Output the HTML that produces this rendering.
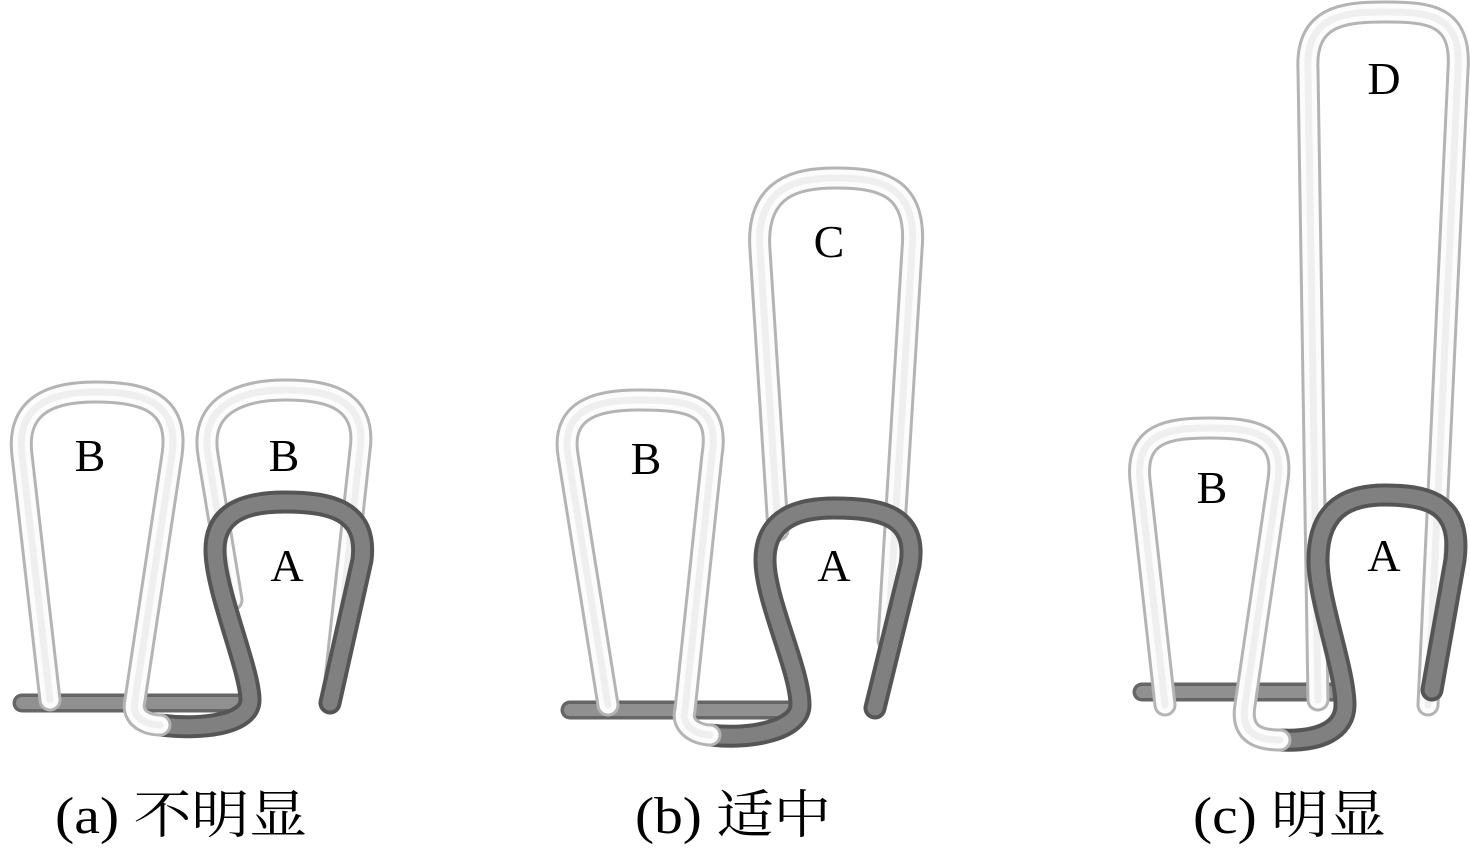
<!DOCTYPE html>
<html><head><meta charset="utf-8"><style>
html,body{margin:0;padding:0;background:#fff;width:1470px;height:851px;overflow:hidden}
svg{display:block}
.wo{fill:none;stroke:#b4b4b4;stroke-width:23;stroke-linecap:round;stroke-linejoin:round}
.wi{fill:none;stroke:#fcfcfc;stroke-width:17;stroke-linecap:round;stroke-linejoin:round}
.wm{fill:none;stroke:#efefef;stroke-width:7;stroke-linecap:round;stroke-linejoin:round}
.go{fill:none;stroke:#555;stroke-width:23;stroke-linecap:round;stroke-linejoin:round}
.gi{fill:none;stroke:#808080;stroke-width:15;stroke-linecap:round;stroke-linejoin:round}
.ro{fill:none;stroke:#666;stroke-width:19;stroke-linecap:round}
.ri{fill:none;stroke:#909090;stroke-width:12;stroke-linecap:round}
text{font-family:"Liberation Serif","Noto Serif CJK SC",serif;fill:#000}
</style></head><body>
<svg width="1470" height="851" viewBox="0 0 1470 851" xmlns="http://www.w3.org/2000/svg">
<defs>
<path id="aB2" d="M232,600 L208,455 C198,395 260,390 285,390 C320,390 368,395 360,450 L335,680"/>
<path id="aB1" d="M50,700 L22,455 C15,400 60,392 95,392 C140,392 180,400 172,455 L135,700 C130,720 150,725 160,725"/>
<path id="aA" d="M160,725 C200,730 250,725 250,700 C250,670 215,590 215,550 C215,505 260,502 285,502 C330,502 368,510 362,560 L330,703"/>
<path id="bB" d="M608,705 L568,455 C560,405 605,400 640,400 C690,400 720,405 712,455 L685,710 C680,728 700,735 710,735"/>
<path id="bC" d="M778,530 L760,250 C755,185 800,178 835,178 C880,178 918,185 912,250 L888,640"/>
<path id="bA" d="M710,735 C750,740 800,730 800,705 C800,670 765,600 765,560 C765,512 810,508 834,508 C880,508 918,515 910,565 L875,708"/>
<path id="cB" d="M1165,705 L1140,480 C1135,432 1170,428 1210,428 C1250,428 1285,432 1278,480 L1245,705 C1240,735 1260,740 1280,740"/>
<path id="cD" d="M1318,700 L1308,70 C1305,15 1345,12 1385,12 C1430,12 1462,15 1458,70 L1428,705"/>
<path id="cA" d="M1280,740 C1320,742 1345,730 1345,705 C1345,670 1318,600 1318,560 C1318,500 1360,495 1385,495 C1430,495 1462,505 1455,560 L1432,690"/>
</defs>
<line class="ro" x1="22" y1="703" x2="250" y2="703"/><line class="ri" x1="22" y1="703" x2="248" y2="703"/>
<line class="ro" x1="570" y1="710" x2="800" y2="710"/><line class="ri" x1="570" y1="710" x2="798" y2="710"/>
<line class="ro" x1="1142" y1="692" x2="1340" y2="692"/><line class="ri" x1="1142" y1="692" x2="1338" y2="692"/>
<use href="#aB2" class="wo"/><use href="#aB2" class="wi"/><use href="#aB2" class="wm"/>
<use href="#aA" class="go"/><use href="#aA" class="gi"/>
<use href="#aB1" class="wo"/><use href="#aB1" class="wi"/><use href="#aB1" class="wm"/>
<use href="#bC" class="wo"/><use href="#bC" class="wi"/><use href="#bC" class="wm"/>
<use href="#bA" class="go"/><use href="#bA" class="gi"/>
<use href="#bB" class="wo"/><use href="#bB" class="wi"/><use href="#bB" class="wm"/>
<use href="#cD" class="wo"/><use href="#cD" class="wi"/><use href="#cD" class="wm"/>
<use href="#cA" class="go"/><use href="#cA" class="gi"/>
<use href="#cB" class="wo"/><use href="#cB" class="wi"/><use href="#cB" class="wm"/>
<g font-size="46" text-anchor="middle">
<text x="90" y="471">B</text><text x="284" y="471">B</text><text x="287" y="581">A</text>
<text x="829" y="257">C</text><text x="646" y="474">B</text><text x="834" y="581">A</text>
<text x="1384" y="94">D</text><text x="1212" y="503">B</text><text x="1384" y="571">A</text>
</g>
<g font-size="52">
<text x="55" y="833" textLength="252" lengthAdjust="spacingAndGlyphs">(a) 不明显</text>
<text x="635" y="833" textLength="196" lengthAdjust="spacingAndGlyphs">(b) 适中</text>
<text x="1193" y="833" textLength="193" lengthAdjust="spacingAndGlyphs">(c) 明显</text>
</g>
</svg>
</body></html>
